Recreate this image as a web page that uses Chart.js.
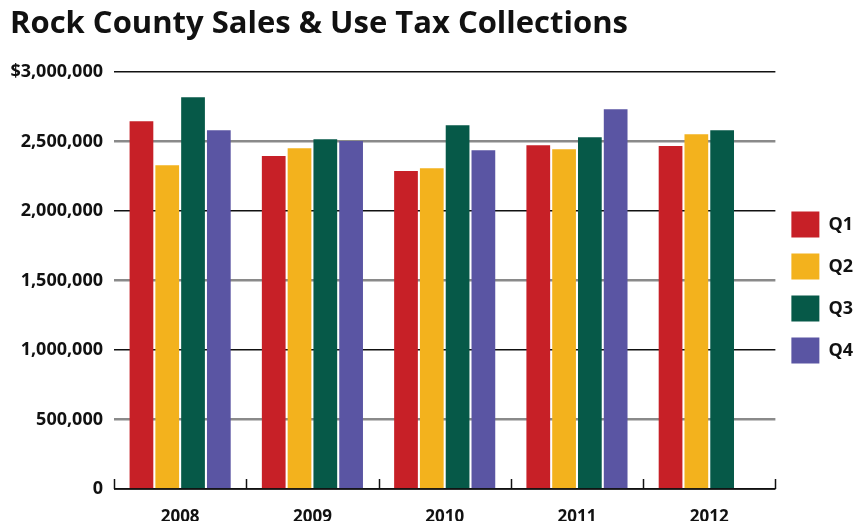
<!DOCTYPE html>
<html>
<head>
<meta charset="utf-8">
<script src="https://cdn.jsdelivr.net/npm/chart.js@4/dist/chart.umd.min.js"></script>
<style>
  html, body { margin: 0; padding: 0; background: #fff; overflow: hidden; }
  canvas { display: block; }
</style>
</head>
<body>
<canvas id="taxChart" width="858" height="521"></canvas>
<script>
const years = ['2008', '2009', '2010', '2011', '2012'];
const q1 = [2647000, 2396000, 2288000, 2475000, 2468000];
const q2 = [2331000, 2453000, 2309000, 2446000, 2554000];
const q3 = [2820000, 2518000, 2619000, 2532000, 2583000];
const q4 = [2583000, 2504000, 2439000, 2734000, null];
const yTicks = [0, 500000, 1000000, 1500000, 2000000, 2500000, 3000000];

const FONT = '"Open Sans"';

// short upward tick marks on the x axis, between the year groups
const upTicks = {
  id: 'upTicks',
  afterDatasetsDraw(chart) {
    const x = chart.scales.x;
    const c = chart.ctx;
    const n = years.length;
    c.save();
    c.strokeStyle = '#111';
    c.lineWidth = 1.5;
    for (let i = 0; i <= n; i++) {
      const px = Math.round(x.left + i * (x.width / n)) + 0.5;
      c.beginPath();
      c.moveTo(px, x.top - 10);
      c.lineTo(px, x.top);
      c.stroke();
    }
    c.beginPath();
    c.moveTo(x.left, x.top);
    c.lineTo(x.right, x.top);
    c.stroke();
    c.restore();
  }
};

const ctx = document.getElementById('taxChart').getContext('2d');
const taxChart = new Chart(ctx, {
  type: 'bar',
  data: {
    labels: years,
    datasets: [
      { label: 'Q1', data: q1, backgroundColor: '#c72027' },
      { label: 'Q2', data: q2, backgroundColor: '#f3b21d' },
      { label: 'Q3', data: q3, backgroundColor: '#065948' },
      { label: 'Q4', data: q4, backgroundColor: '#5a55a3' }
    ]
  },
  options: {
    responsive: false,
    animation: false,
    layout: { padding: { left: 10, right: -5, top: 6, bottom: 0 } },
    datasets: { bar: { categoryPercentage: 0.78, barPercentage: 0.92 } },
    plugins: {
      title: {
        display: true,
        text: 'Rock County Sales & Use Tax Collections',
        align: 'start',
        color: '#111',
        font: { family: FONT, size: 31, weight: 'bold' },
        padding: { top: 0, bottom: 29 }
      },
      legend: {
        position: 'right',
        // blank title just pushes the items down a bit
        title: { display: true, text: ' ', font: { size: 10 }, padding: { top: 0, bottom: 36 } },
        labels: {
          boxWidth: 28,
          boxHeight: 26,
          padding: 16,
          color: '#111',
          font: { family: FONT, size: 18, weight: 'bold' }
        }
      },
      tooltip: { enabled: false }
    },
    scales: {
      x: {
        afterFit(scale) { scale.height = 32; },
        grid: { display: false, drawTicks: false },
        border: { display: false },
        ticks: {
          color: '#111',
          padding: 18,
          font: { family: FONT, size: 17, weight: 'bold' }
        }
      },
      y: {
        min: 0,
        max: 3000000,
        afterBuildTicks(scale) {
          scale.ticks = yTicks.map(v => ({ value: v }));
        },
        afterFit(scale) { scale.width = 104; },
        border: { display: false },
        grid: {
          drawTicks: false,
          color: c => (c.index % 2 === 0 ? '#111' : '#8a8a8a'),
          lineWidth: c => (c.index % 2 === 0 ? 1.5 : 2.5)
        },
        ticks: {
          color: '#111',
          padding: 11,
          font: { family: FONT, size: 18, weight: 'bold' },
          callback: v => (v === 3000000 ? '$' : '') + (v === 0 ? '0' : v.toLocaleString('en-US'))
        }
      }
    }
  },
  plugins: [upTicks]
});
</script>
</body>
</html>
